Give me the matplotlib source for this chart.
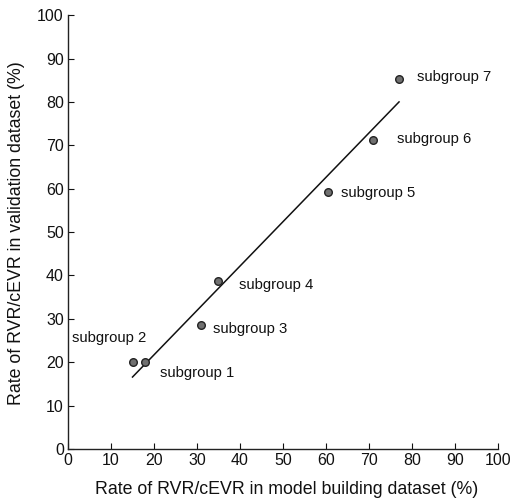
import matplotlib
matplotlib.use("Agg")
import matplotlib.pyplot as plt

plt.rcParams['font.family'] = ['Liberation Sans', 'DejaVu Sans']

labels = ["subgroup 1", "subgroup 2", "subgroup 3", "subgroup 4",
          "subgroup 5", "subgroup 6", "subgroup 7"]
model_rate = [18, 15, 31, 35, 60.5, 71, 77]
valid_rate = [20, 20, 28.6, 38.7, 59.2, 71.2, 85.3]
label_x = [21.4, 0.9, 33.7, 39.8, 63.5, 76.5, 81.2]
label_y = [17.5, 25.6, 27.6, 37.8, 59.0, 71.4, 85.7]
fit_x = [15, 77]
fit_y = [16.6, 80.0]
ticks = list(range(0, 101, 10))

fig = plt.figure(figsize=(5.13, 5.04), dpi=100)
ax = fig.add_axes([0.1326, 0.109, 0.838, 0.861])

ax.plot(fit_x, fit_y, color='#111111', lw=1.1)
ax.scatter(model_rate, valid_rate, s=30, facecolor='#707070',
           edgecolor='#222222', linewidth=1.0, zorder=3)
for t, x, y in zip(labels, label_x, label_y):
    ax.text(x, y, t, fontsize=10.7, va='center', ha='left', color='#111111')

ax.set_xlim(0, 100)
ax.set_ylim(0, 100)
ax.set_xticks(ticks)
ax.set_yticks(ticks)
ax.tick_params(direction='in', length=4, width=0.8, labelsize=11.5, colors='#111111', pad=3)
for s in ['top', 'right']:
    ax.spines[s].set_visible(False)
for s in ['left', 'bottom']:
    ax.spines[s].set_linewidth(1.0)
    ax.spines[s].set_color('#222222')

ax.set_xlabel("Rate of RVR/cEVR in model building dataset (%)", fontsize=12.8, color='#111111')
ax.set_ylabel("Rate of RVR/cEVR in validation dataset (%)", fontsize=12.8, color='#111111')
ax.xaxis.set_label_coords(0.508, -0.074)
ax.yaxis.set_label_coords(-0.10, 0.497)

fig.savefig("out.png", dpi=100)
